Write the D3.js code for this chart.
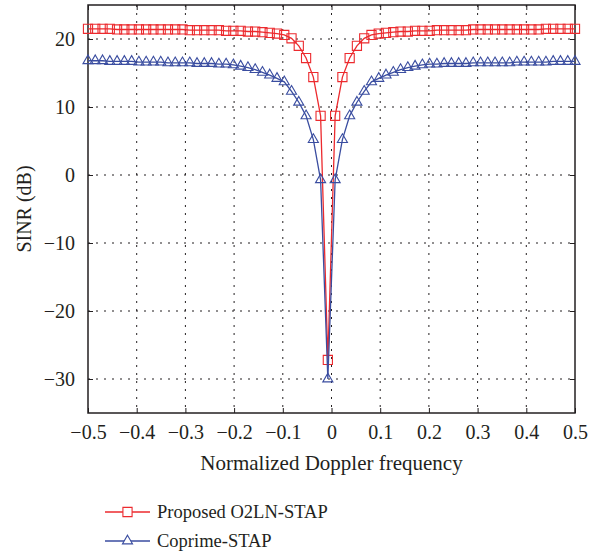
<!DOCTYPE html>
<html lang="en">
<head>
  <meta charset="UTF-8">
  <title>SINR vs Normalized Doppler frequency</title>
  <style>
    body {
      margin: 0;
      padding: 0;
      background-color: white;
    }
    .grid line {
      stroke: #231f20;
      stroke-width: 1;
      stroke-dasharray: 2,6;
    }
    .frame {
      fill: none;
      stroke: #231f20;
      stroke-width: 1.5;
    }
    .tick-mark {
      stroke: #231f20;
      stroke-width: 1;
    }
  </style>
</head>
<body>
  <div id="chart"></div>

  <script src="https://d3js.org/d3.v7.min.js"></script>
  <script>
    // normalized Doppler frequency samples
    var freq = [-0.5, -0.4851, -0.4701, -0.4552, -0.4403, -0.4254, -0.4104, -0.3955, -0.3806, -0.3657,
                -0.3507, -0.3358, -0.3209, -0.306, -0.291, -0.2761, -0.2612, -0.2463, -0.2313, -0.2164,
                -0.2015, -0.1866, -0.1716, -0.1567, -0.1418, -0.1269, -0.1119, -0.097, -0.0821, -0.0672,
                -0.0522, -0.0373, -0.0224, -0.0075, 0.0075, 0.0224, 0.0373, 0.0522, 0.0672, 0.0821,
                0.097, 0.1119, 0.1269, 0.1418, 0.1567, 0.1716, 0.1866, 0.2015, 0.2164, 0.2313,
                0.2463, 0.2612, 0.2761, 0.291, 0.306, 0.3209, 0.3358, 0.3507, 0.3657, 0.3806,
                0.3955, 0.4104, 0.4254, 0.4403, 0.4552, 0.4701, 0.4851, 0.5];

    // SINR (dB), Proposed O2LN-STAP
    var proposed = [21.5, 21.5, 21.5, 21.5, 21.4, 21.4, 21.4, 21.4, 21.4, 21.4,
                    21.4, 21.4, 21.4, 21.4, 21.3, 21.3, 21.3, 21.3, 21.3, 21.2,
                    21.2, 21.2, 21.1, 21.1, 21.0, 20.9, 20.8, 20.6, 20.1, 19.0,
                    17.2, 14.4, 8.7, -27.2, 8.7, 14.4, 17.2, 19.0, 20.1, 20.6,
                    20.8, 20.9, 21.0, 21.1, 21.1, 21.2, 21.2, 21.2, 21.3, 21.3,
                    21.3, 21.3, 21.3, 21.4, 21.4, 21.4, 21.4, 21.4, 21.4, 21.4,
                    21.4, 21.4, 21.4, 21.5, 21.5, 21.5, 21.5, 21.5];

    // SINR (dB), Coprime-STAP
    var coprime = [16.8, 16.8, 16.8, 16.7, 16.7, 16.7, 16.7, 16.6, 16.6, 16.6,
                   16.6, 16.5, 16.5, 16.5, 16.5, 16.4, 16.4, 16.4, 16.3, 16.3,
                   16.2, 16.0, 15.8, 15.5, 15.1, 14.7, 14.2, 13.7, 12.3, 10.7,
                   8.7, 5.2, -0.7, -30.0, -0.7, 5.2, 8.7, 10.7, 12.3, 13.7,
                   14.2, 14.7, 15.1, 15.5, 15.8, 16.0, 16.2, 16.3, 16.3, 16.4,
                   16.4, 16.4, 16.4, 16.5, 16.5, 16.5, 16.5, 16.5, 16.5, 16.6,
                   16.6, 16.6, 16.6, 16.6, 16.7, 16.7, 16.7, 16.7];

    var xTicks = [-0.5, -0.4, -0.3, -0.2, -0.1, 0, 0.1, 0.2, 0.3, 0.4, 0.5];
    var yTicks = [-30, -20, -10, 0, 10, 20];
    var seriesNames = ["Proposed O2LN-STAP", "Coprime-STAP"];

    var width = 589, height = 559;
    var plot = {left: 88, right: 575, top: 5, bottom: 413};
    var red = "#ec2a2e", blue = "#3a4da0";
    var textFont = "'Liberation Serif'";

    var svg = d3.select("#chart").append("svg")
                .attr("width", width)
                .attr("height", height);

    var x = d3.scaleLinear().domain([-0.5, 0.5]).range([plot.left, plot.right]);
    var y = d3.scaleLinear().domain([-35, 25]).range([plot.bottom, plot.top]);

    function fmt(d) {
      return d3.format("")(d).replace("-", "\u2212");
    }

    function styleText(sel, size) {
      sel.style("font-family", textFont)
         .style("font-size", (size || 20) + "px")
         .attr("fill", "#231f20");
    }

    // dotted grid
    var grid = svg.append("g").attr("class", "grid");
    grid.selectAll(".gx")
        .data(xTicks.filter(function(d) { return d > -0.5 && d < 0.5; }))
        .enter().append("line")
        .attr("x1", function(d) { return x(d); })
        .attr("x2", function(d) { return x(d); })
        .attr("y1", plot.top)
        .attr("y2", plot.bottom);
    grid.selectAll(".gy")
        .data(yTicks)
        .enter().append("line")
        .attr("x1", plot.left)
        .attr("x2", plot.right)
        .attr("y1", function(d) { return y(d); })
        .attr("y2", function(d) { return y(d); });

    // axes with inward ticks on all four sides
    var tickLen = 5;
    svg.append("g")
       .attr("transform", "translate(0," + plot.bottom + ")")
       .call(d3.axisBottom(x).tickValues(xTicks).tickSize(-tickLen).tickPadding(12).tickFormat(fmt))
       .call(function(g) {
         g.select(".domain").remove();
         g.selectAll("text").call(styleText);
         g.selectAll("line").attr("class", "tick-mark");
       });
    svg.append("g")
       .attr("transform", "translate(0," + plot.top + ")")
       .call(d3.axisTop(x).tickValues(xTicks).tickSize(-tickLen).tickFormat(""))
       .call(function(g) {
         g.select(".domain").remove();
         g.selectAll("line").attr("class", "tick-mark");
       });
    svg.append("g")
       .attr("transform", "translate(" + plot.left + ",0)")
       .call(d3.axisLeft(y).tickValues(yTicks).tickSize(-tickLen).tickPadding(13).tickFormat(fmt))
       .call(function(g) {
         g.select(".domain").remove();
         g.selectAll("text").call(styleText);
         g.selectAll("line").attr("class", "tick-mark");
       });
    svg.append("g")
       .attr("transform", "translate(" + plot.right + ",0)")
       .call(d3.axisRight(y).tickValues(yTicks).tickSize(-tickLen).tickFormat(""))
       .call(function(g) {
         g.select(".domain").remove();
         g.selectAll("line").attr("class", "tick-mark");
       });

    svg.append("rect")
       .attr("class", "frame")
       .attr("x", plot.left)
       .attr("y", plot.top)
       .attr("width", plot.right - plot.left)
       .attr("height", plot.bottom - plot.top);

    // axis titles
    svg.append("text")
       .attr("x", (plot.left + plot.right) / 2)
       .attr("y", 470)
       .attr("text-anchor", "middle")
       .call(styleText, 21)
       .text("Normalized Doppler frequency");
    svg.append("text")
       .attr("transform", "translate(31," + ((plot.top + plot.bottom) / 2) + ") rotate(-90)")
       .attr("text-anchor", "middle")
       .call(styleText)
       .text("SINR (dB)");

    var square = d3.symbol().type(d3.symbolSquare).size(84);
    var triangle = d3.symbol().type(d3.symbolTriangle).size(44);

    function drawSeries(values, color, marker) {
      var pts = freq.map(function(f, i) { return [f, values[i]]; });
      var g = svg.append("g");
      g.append("path")
       .datum(pts)
       .attr("fill", "none")
       .attr("stroke", color)
       .attr("stroke-width", 1.3)
       .attr("d", d3.line()
                    .x(function(d) { return x(d[0]); })
                    .y(function(d) { return y(d[1]); }));
      g.selectAll(".mk")
       .data(pts)
       .enter().append("path")
       .attr("transform", function(d) { return "translate(" + x(d[0]) + "," + y(d[1]) + ")"; })
       .attr("d", marker)
       .attr("fill", "none")
       .attr("stroke", color)
       .attr("stroke-width", 1.1);
    }

    drawSeries(proposed, red, square);
    drawSeries(coprime, blue, triangle);

    // legend
    var legend = svg.append("g");
    var legendItems = [
      {name: seriesNames[0], color: red, marker: square, y: 512},
      {name: seriesNames[1], color: blue, marker: triangle, y: 541}
    ];
    legendItems.forEach(function(item) {
      legend.append("line")
            .attr("x1", 105).attr("x2", 150)
            .attr("y1", item.y).attr("y2", item.y)
            .attr("stroke", item.color)
            .attr("stroke-width", 1.3);
      legend.append("path")
            .attr("transform", "translate(127.5," + item.y + ")")
            .attr("d", item.marker)
            .attr("fill", "white")
            .attr("stroke", item.color)
            .attr("stroke-width", 1.1);
      legend.append("text")
            .attr("x", 157)
            .attr("y", item.y + 6)
            .call(styleText, 18.5)
            .text(item.name);
    });
  </script>
</body>
</html>
